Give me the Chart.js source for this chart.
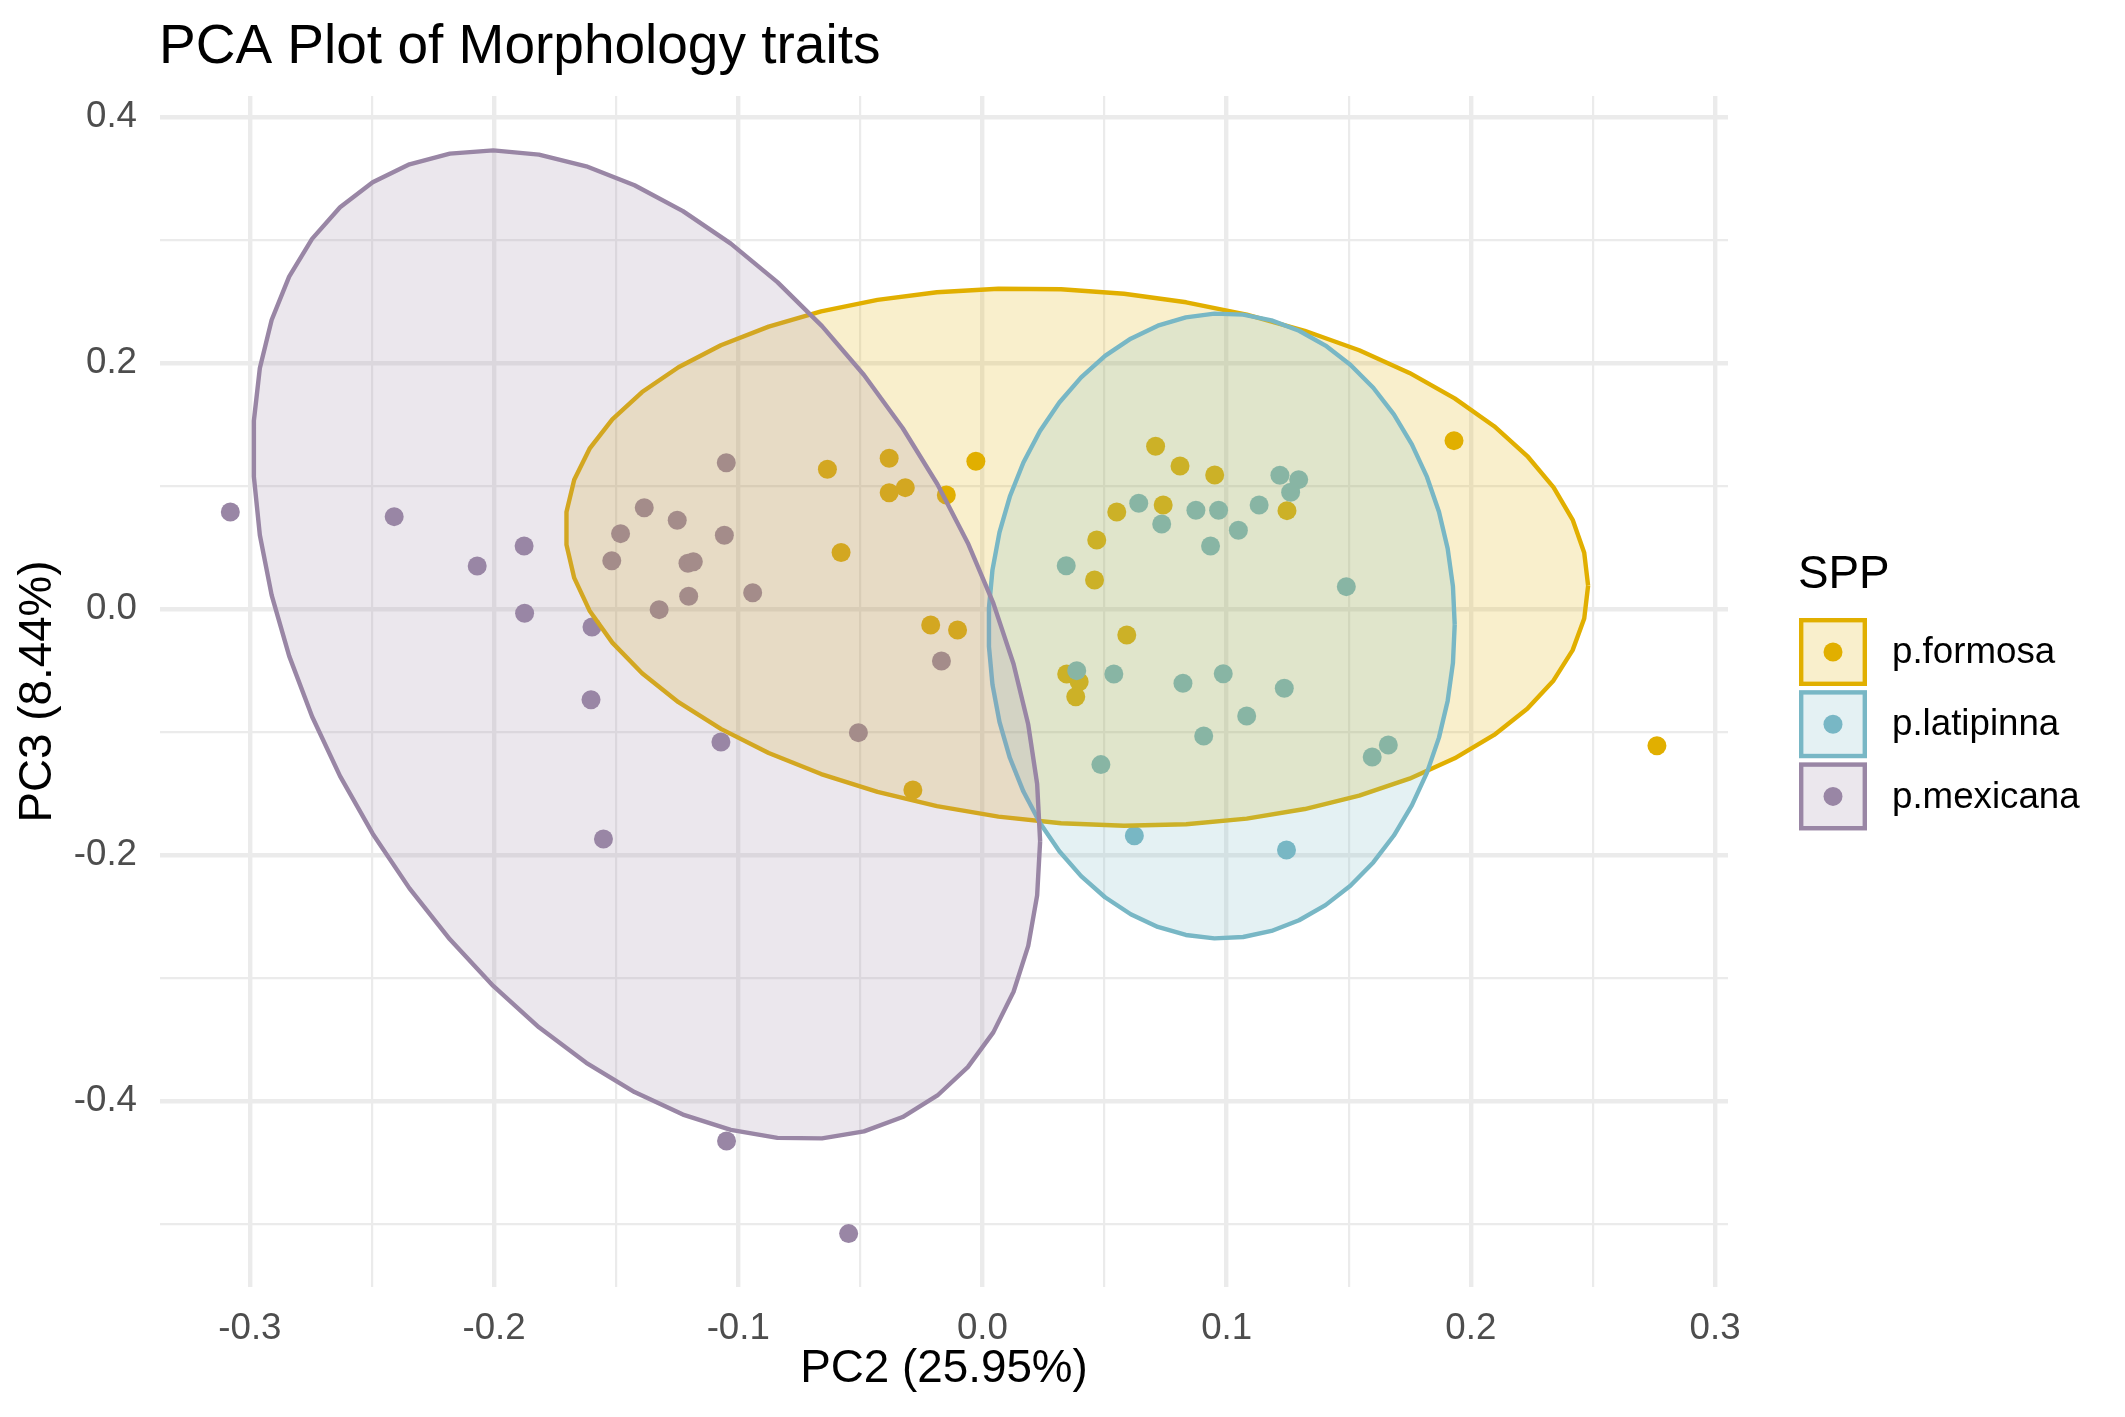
<!DOCTYPE html>
<html>
<head>
<meta charset="utf-8">
<script src="https://cdn.jsdelivr.net/npm/chart.js@4.4.1/dist/chart.umd.min.js"></script>
<style>
html,body{margin:0;padding:0;background:#ffffff;}
canvas{display:block;}
</style>
</head>
<body>
<canvas id="c" width="2125" height="1417"></canvas>
<script>
// ---------------- data ----------------
const species = ['p.formosa', 'p.latipinna', 'p.mexicana'];
const speciesColors = ['#E1AF00', '#78B7C5', '#9986A5'];

const formosaPC2 = [-0.0635, -0.0382, -0.0382, -0.0316, -0.0027, -0.0148, -0.0579, -0.0212, -0.0102, -0.0285,
  0.0709, 0.0809, 0.0951, 0.0550, 0.0740, 0.1247, 0.0468, 0.0459, 0.0591, 0.0345, 0.0396, 0.0382, 0.1931, 0.2762];
const formosaPC3 = [0.1138, 0.1228, 0.0948, 0.0989, 0.1203, 0.0929, 0.0462, -0.0128, -0.0168, -0.1469,
  0.1325, 0.1165, 0.1092, 0.0791, 0.0848, 0.0802, 0.0563, 0.0238, -0.0209, -0.0526, -0.0589, -0.0711, 0.1371, -0.1109];

const latipinnaPC2 = [0.0640, 0.0734, 0.0874, 0.0967, 0.1048, 0.0934, 0.1133, 0.1218, 0.1295, 0.1262, 0.0343, 0.1490,
  0.0386, 0.0538, 0.0821, 0.0986, 0.1236, 0.1082, 0.0906, 0.0485, 0.1662, 0.1596, 0.0622, 0.1245];
const latipinnaPC3 = [0.0862, 0.0693, 0.0805, 0.0805, 0.0642, 0.0515, 0.0848, 0.1089, 0.1054, 0.0951, 0.0354, 0.0184,
  -0.0499, -0.0526, -0.0602, -0.0524, -0.0642, -0.0867, -0.1030, -0.1263, -0.1103, -0.1201, -0.1841, -0.1957];

const mexicanaPC2 = [-0.3080, -0.2409, -0.1877, -0.2069, -0.1875, -0.1599, -0.1603, -0.1071, -0.1552, -0.1049, -0.1385, -0.1250,
  -0.1482, -0.1057, -0.1518, -0.1206, -0.1184, -0.0941, -0.1203, -0.1324, -0.0168, -0.0508, -0.1048, -0.0548];
const mexicanaPC3 = [0.0791, 0.0753, 0.0515, 0.0352, -0.0033, -0.0144, -0.0735, -0.1079, -0.1867, 0.1192, 0.0826, 0.0724,
  0.0615, 0.0602, 0.0395, 0.0374, 0.0387, 0.0135, 0.0106, -0.0003, -0.0420, -0.1003, -0.4323, -0.5076];

const xMajorTicks = [-0.3, -0.2, -0.1, 0.0, 0.1, 0.2, 0.3];
const xMinorTicks = [-0.25, -0.15, -0.05, 0.05, 0.15, 0.25];
const yMajorTicks = [-0.4, -0.2, 0.0, 0.2, 0.4];
const yMinorTicks = [-0.5, -0.3, -0.1, 0.1, 0.3];

const titleText = 'PCA Plot of Morphology traits';
const xTitle = 'PC2 (25.95%)';
const yTitle = 'PC3 (8.44%)';
const legendTitle = 'SPP';

// ---------------- helpers ----------------
const FONT = '"Liberation Sans", Arial, Helvetica, sans-serif';
function rgba(hex, a) {
  const n = parseInt(hex.slice(1), 16);
  return `rgba(${(n >> 16) & 255},${(n >> 8) & 255},${n & 255},${a})`;
}
function toPoints(xs, ys) { return xs.map((x, i) => ({x: x, y: ys[i]})); }

// sample covariance (stats::cov.wt, unbiased) as used by stat_ellipse(type = "norm")
function covNorm(xs, ys) {
  const n = xs.length;
  const mx = xs.reduce((s, v) => s + v, 0) / n;
  const my = ys.reduce((s, v) => s + v, 0) / n;
  let a = 0, b = 0, c = 0;
  for (let i = 0; i < n; i++) {
    const dx = xs[i] - mx, dy = ys[i] - my;
    a += dx * dx; b += dx * dy; c += dy * dy;
  }
  return {cx: mx, cy: my, a: a / (n - 1), b: b / (n - 1), c: c / (n - 1)};
}

function ellipsePath(xs, ys) {
  const v = covNorm(xs, ys);
  const dfd = xs.length - 1;
  const qf = dfd / 2 * (Math.pow(1 - 0.95, -2 / dfd) - 1);
  const radius = Math.sqrt(2 * qf);
  const r11 = Math.sqrt(v.a), r12 = v.b / r11, r22 = Math.sqrt(v.c - r12 * r12);
  const segs = 51, pts = [];
  for (let k = 0; k <= segs; k++) {
    const t = k * 2 * Math.PI / segs;
    pts.push({x: v.cx + radius * Math.cos(t) * r11,
              y: v.cy + radius * (Math.cos(t) * r12 + Math.sin(t) * r22)});
  }
  return pts;
}

const groupsX = [formosaPC2, latipinnaPC2, mexicanaPC2];
const groupsY = [formosaPC3, latipinnaPC3, mexicanaPC3];

const datasets = [];
species.forEach((s, i) => {
  datasets.push({
    type: 'scatter',
    label: s,
    data: toPoints(groupsX[i], groupsY[i]),
    backgroundColor: speciesColors[i],
    borderWidth: 0,
    pointRadius: 9.5,
    pointHoverRadius: 9.5,
    showLine: false,
    order: 20 - i
  });
});
species.forEach((s, i) => {
  datasets.push({
    type: 'line',
    label: s + ' ellipse',
    data: ellipsePath(groupsX[i], groupsY[i]),
    borderColor: speciesColors[i],
    backgroundColor: rgba(speciesColors[i], 0.2),
    borderWidth: 4.4,
    borderJoinStyle: 'round',
    pointRadius: 0,
    pointHoverRadius: 0,
    tension: 0,
    fill: 'shape',
    order: 3 - i
  });
});

const isMult = (v, step) => Math.abs(v / step - Math.round(v / step)) < 1e-6;
const xAll = xMajorTicks.concat(xMinorTicks).sort((a, b) => a - b);
const yAll = yMajorTicks.concat(yMinorTicks).sort((a, b) => a - b);

const decorPlugin = {
  id: 'decor',
  afterDraw(chart) {
    const ctx = chart.ctx;
    ctx.save();
    ctx.fillStyle = '#000000';
    ctx.textAlign = 'left';
    ctx.textBaseline = 'alphabetic';
    ctx.font = `55px ${FONT}`;
    ctx.fillText(titleText, 159, 63);

    ctx.font = `45.8px ${FONT}`;
    ctx.fillText(legendTitle, 1798, 588);
    species.forEach((s, i) => {
      const y = 618 + i * 72.2;
      const col = speciesColors[i];
      ctx.fillStyle = rgba(col, 0.2);
      ctx.fillRect(1799, y, 68, 68);
      ctx.strokeStyle = col;
      ctx.lineWidth = 4.4;
      ctx.strokeRect(1801.2, y + 2.2, 63.6, 63.6);
      ctx.beginPath();
      ctx.arc(1833, y + 34, 9.5, 0, Math.PI * 2);
      ctx.fillStyle = col;
      ctx.fill();
      ctx.fillStyle = '#000000';
      ctx.font = `36.7px ${FONT}`;
      ctx.textBaseline = 'middle';
      ctx.fillText(s, 1892, y + 35);
      ctx.textBaseline = 'alphabetic';
    });
    ctx.restore();
  }
};

Chart.defaults.font.family = FONT;

new Chart(document.getElementById('c'), {
  type: 'scatter',
  data: {datasets: datasets},
  plugins: [decorPlugin],
  options: {
    responsive: false,
    devicePixelRatio: 1,
    animation: false,
    events: [],
    layout: {padding: {left: 0, top: 96, right: 397, bottom: 0}},
    plugins: {legend: {display: false}, tooltip: {enabled: false}, title: {display: false}},
    scales: {
      x: {
        type: 'linear',
        min: -0.3368,
        max: 0.3053,
        afterBuildTicks: s => { s.ticks = xAll.map(v => ({value: v})); },
        afterFit: s => { s.height = 130; },
        grid: {color: '#EBEBEB', lineWidth: c => (c.tick && isMult(c.tick.value, 0.1)) ? 4.4 : 2.2, drawTicks: false},
        border: {display: false},
        ticks: {
          autoSkip: false, maxRotation: 0, minRotation: 0, padding: 20,
          color: '#4D4D4D', font: {size: 36.7},
          callback: v => isMult(v, 0.1) ? v.toFixed(1) : ''
        },
        title: {display: true, text: xTitle, color: '#000000', font: {size: 45.8}, padding: {top: 0, bottom: 20}}
      },
      y: {
        type: 'linear',
        min: -0.551,
        max: 0.4173,
        afterBuildTicks: s => { s.ticks = yAll.map(v => ({value: v})); },
        afterFit: s => { s.width = 160; },
        grid: {color: '#EBEBEB', lineWidth: c => (c.tick && isMult(c.tick.value, 0.2)) ? 4.4 : 2.2, drawTicks: false},
        border: {display: false},
        ticks: {
          autoSkip: false, padding: 23,
          color: '#4D4D4D', font: {size: 36.7},
          callback: v => isMult(v, 0.2) ? v.toFixed(1) : ''
        },
        title: {display: true, text: yTitle, color: '#000000', font: {size: 45.8}, padding: {top: 11, bottom: 0}}
      }
    }
  }
});
</script>
</body>
</html>
